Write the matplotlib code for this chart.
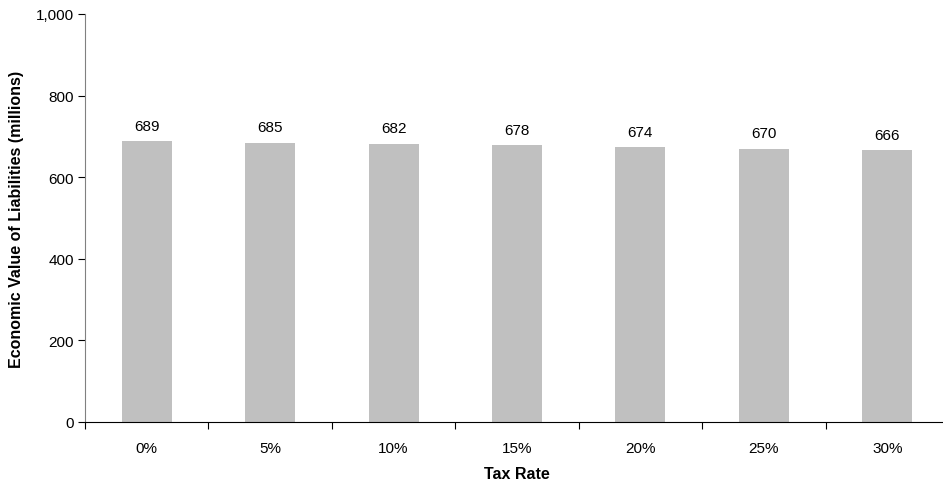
import numpy as np
import matplotlib
matplotlib.use("Agg")
import matplotlib.pyplot as plt
from matplotlib.ticker import FuncFormatter, FixedLocator

plt.rcParams["font.family"] = ["Liberation Sans", "DejaVu Sans"]

categories = ["0%", "5%", "10%", "15%", "20%", "25%", "30%"]
values = [689, 685, 682, 678, 674, 670, 666]

W, H = 943, 485
fig = plt.figure(figsize=(W / 100, H / 100), dpi=100)
# axes spans x 85..949 px, y 15..423 px (runs a bit past the right edge)
ax = fig.add_axes([85 / W, (H - 423) / H, (949 - 85) / W, (423 - 15) / H])

x = np.arange(len(categories))
ax.bar(x, values, width=0.405, color="#c0c0c0", edgecolor="none")
for xi, v in zip(x, values):
    ax.annotate(f"{v}", (xi, v), xytext=(0, 11), textcoords="offset points",
                ha="center", va="center", fontsize=11)

ax.set_xlim(-0.5, len(categories) - 0.5)
ax.set_ylim(0, 1000)
ax.set_yticks(range(0, 1001, 200))
ax.yaxis.set_major_formatter(FuncFormatter(lambda v, p: f"{int(v):,}"))

# ticks between categories, labels at centres
ax.set_xticks(x)
ax.set_xticklabels(categories)
ax.xaxis.set_minor_locator(FixedLocator(np.arange(-0.5, len(categories), 1.0)))
ax.tick_params(axis="x", which="major", length=0, pad=13.5, labelsize=11)
ax.tick_params(axis="x", which="minor", length=5, direction="out", width=0.8)
ax.tick_params(axis="y", length=5, direction="out", width=0.8, labelsize=11, pad=3)

for s in ("top", "right"):
    ax.spines[s].set_visible(False)
ax.spines["left"].set_color("#808080")
ax.spines["bottom"].set_color("black")

ax.set_ylabel("Economic Value of Liabilities (millions)", fontsize=11.5,
              fontweight="bold", va="center")
ax.yaxis.set_label_coords(-68 / 864, 0.5)
ax.set_xlabel("Tax Rate", fontsize=11.5, fontweight="bold", va="center")
ax.xaxis.set_label_coords(0.5, -52 / 408)

fig.savefig("out.png", dpi=100)
